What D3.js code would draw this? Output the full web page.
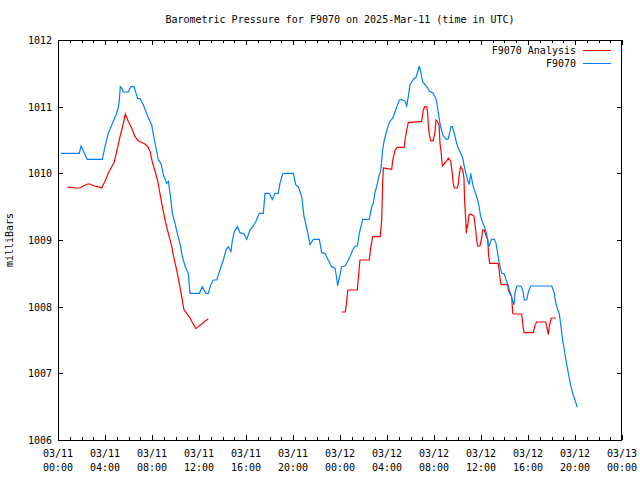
<!DOCTYPE html>
<html><head><meta charset="utf-8">
<script src="https://cdn.jsdelivr.net/npm/d3@7"></script>
<style>
body{margin:0;background:#fff;}
text{font-family:"DejaVu Sans Mono",monospace;font-size:10px;fill:#000;}
</style></head>
<body><svg id="c" width="640" height="480"></svg>
<script>
// ---- data (hours since 2025-03-11 00:00 UTC, millibars) ----
const stationHours = [0.26,1.81,1.96,2.49,3.77,4.00,4.28,4.57,4.94,5.13,5.22,5.30,5.42,5.56,5.98,6.21,6.47,6.78,6.98,7.26,7.69,7.97,8.17,8.34,8.54,8.77,8.96,9.11,9.25,9.40,9.57,9.73,9.96,10.15,10.38,10.53,10.66,10.87,11.09,11.23,12.03,12.28,12.57,12.79,13.00,13.22,13.51,13.79,14.07,14.30,14.49,14.72,14.83,15.00,15.26,15.49,15.83,16.06,16.34,16.62,16.85,17.13,17.47,17.62,17.98,18.24,18.47,18.75,18.89,19.12,19.32,20.03,20.23,20.45,20.74,20.94,21.17,21.45,21.73,22.24,22.44,22.72,23.00,23.29,23.57,23.72,23.80,24.00,24.14,24.43,24.62,24.85,25.08,25.28,25.47,25.64,25.85,25.93,26.49,26.70,26.83,26.98,27.12,27.34,27.46,27.63,27.77,27.97,28.11,28.26,28.49,28.68,28.88,29.05,29.25,29.53,29.68,29.81,29.96,30.10,30.30,30.47,30.61,30.75,30.87,31.04,31.23,31.43,31.60,31.89,32.09,32.23,32.37,32.51,32.66,32.79,33.02,33.22,33.45,33.56,33.73,33.93,34.07,34.27,34.44,34.58,34.72,34.86,35.00,35.12,35.34,35.57,35.72,35.86,35.97,36.11,36.28,36.43,36.57,36.68,36.77,36.91,37.13,37.28,37.42,37.56,37.76,37.98,38.13,38.27,38.41,38.55,38.70,38.81,38.89,39.04,39.38,39.55,39.69,39.89,40.03,40.23,42.02,42.21,42.38,42.53,42.66,42.81,42.95,43.09,43.23,43.38,43.51,43.66,43.80,43.94,44.09,44.20];
const stationValues = [1010.30,1010.30,1010.41,1010.21,1010.21,1010.40,1010.60,1010.72,1010.88,1010.98,1011.10,1011.30,1011.28,1011.22,1011.22,1011.30,1011.30,1011.12,1011.12,1011.03,1010.83,1010.73,1010.53,1010.38,1010.20,1010.15,1009.98,1009.92,1009.85,1009.88,1009.65,1009.40,1009.25,1009.10,1008.95,1008.80,1008.70,1008.58,1008.50,1008.20,1008.20,1008.30,1008.20,1008.20,1008.33,1008.40,1008.40,1008.55,1008.70,1008.85,1008.90,1008.83,1008.98,1009.12,1009.20,1009.11,1009.09,1009.01,1009.15,1009.21,1009.28,1009.40,1009.40,1009.70,1009.70,1009.61,1009.70,1009.70,1009.85,1009.99,1010.00,1010.00,1009.83,1009.80,1009.65,1009.35,1009.18,1008.93,1009.01,1009.01,1008.81,1008.80,1008.70,1008.60,1008.58,1008.43,1008.31,1008.48,1008.60,1008.61,1008.67,1008.75,1008.85,1008.91,1008.91,1009.10,1009.25,1009.31,1009.31,1009.50,1009.55,1009.72,1009.80,1009.98,1010.03,1010.35,1010.50,1010.63,1010.72,1010.78,1010.83,1010.92,1011.02,1011.10,1011.11,1011.08,1011.01,1011.15,1011.33,1011.37,1011.42,1011.44,1011.52,1011.61,1011.52,1011.37,1011.33,1011.29,1011.23,1011.21,1011.15,1011.08,1010.90,1010.75,1010.63,1010.56,1010.51,1010.52,1010.70,1010.70,1010.60,1010.45,1010.38,1010.30,1010.23,1010.10,1010.00,1009.90,1009.83,1010.00,1009.80,1009.68,1009.60,1009.48,1009.35,1009.28,1009.20,1009.13,1009.00,1008.90,1008.95,1009.01,1009.01,1008.95,1008.80,1008.65,1008.50,1008.49,1008.41,1008.34,1008.25,1008.18,1008.08,1008.03,1008.20,1008.31,1008.31,1008.25,1008.10,1008.10,1008.22,1008.31,1008.31,1008.22,1008.05,1007.95,1007.90,1007.70,1007.50,1007.35,1007.20,1007.05,1006.93,1006.80,1006.70,1006.63,1006.55,1006.49];

// analysis series; null marks the gap in the record
const analysisHours = [0.79,1.17,1.39,1.87,2.15,2.53,2.72,3.09,3.38,3.72,4.00,4.28,4.57,4.79,5.00,5.28,5.56,5.73,5.98,6.27,6.55,6.83,7.17,7.40,7.63,7.83,8.03,8.26,8.49,8.83,9.11,9.39,9.68,9.90,10.10,10.32,10.53,10.72,10.95,11.23,11.51,11.74,11.94,12.23,12.51,12.79,
  null,
  24.14,24.45,24.57,24.66,25.47,25.56,25.70,26.49,26.61,26.78,27.43,27.55,27.63,27.69,28.40,28.49,28.60,28.68,28.88,29.47,29.53,29.68,29.81,30.95,31.09,31.23,31.38,31.46,31.51,31.60,31.72,31.94,32.09,32.17,32.28,32.43,32.51,32.60,32.71,32.85,33.02,33.22,33.42,33.56,33.64,33.73,33.98,34.07,34.16,34.27,34.44,34.55,34.61,34.70,34.75,34.81,34.86,34.98,35.12,35.40,35.55,35.63,35.72,35.91,36.06,36.14,36.28,36.40,36.57,36.66,36.74,37.47,37.56,37.68,37.73,38.27,38.32,38.61,38.70,38.75,39.46,39.55,39.66,40.45,40.60,40.74,41.51,41.60,41.73,41.81,41.96,42.02,42.38];
const analysisValues = [1009.79,1009.79,1009.78,1009.78,1009.81,1009.84,1009.84,1009.81,1009.80,1009.78,1009.88,1010.00,1010.10,1010.17,1010.33,1010.55,1010.75,1010.89,1010.78,1010.68,1010.55,1010.49,1010.46,1010.44,1010.40,1010.33,1010.17,1010.03,1009.88,1009.55,1009.30,1009.10,1008.90,1008.70,1008.55,1008.35,1008.15,1007.95,1007.90,1007.83,1007.74,1007.67,1007.70,1007.74,1007.78,1007.82,
  null,
  1007.92,1007.92,1008.08,1008.25,1008.25,1008.43,1008.70,1008.70,1008.88,1009.05,1009.05,1009.30,1009.85,1010.08,1010.06,1010.20,1010.28,1010.35,1010.39,1010.39,1010.50,1010.65,1010.76,1010.78,1010.95,1011.00,1011.00,1010.90,1010.73,1010.58,1010.49,1010.49,1010.63,1010.80,1010.78,1010.73,1010.45,1010.33,1010.11,1010.14,1010.17,1010.23,1010.18,1010.00,1009.85,1009.78,1009.78,1009.85,1010.00,1010.10,1010.05,1009.93,1009.57,1009.30,1009.10,1009.23,1009.21,1009.38,1009.39,1009.36,1009.15,1009.00,1008.91,1008.91,1009.03,1009.15,1009.15,1009.08,1009.00,1008.75,1008.65,1008.65,1008.52,1008.35,1008.33,1008.33,1008.25,1008.15,1007.90,1007.89,1007.89,1007.75,1007.61,1007.61,1007.72,1007.77,1007.77,1007.70,1007.58,1007.70,1007.82,1007.83,1007.83];

const yTicks = [1006,1007,1008,1009,1010,1011,1012];
const xTickHours = [0,4,8,12,16,20,24,28,32,36,40,44,48];
const xTickDates = ["03/11","03/11","03/11","03/11","03/11","03/11","03/12","03/12","03/12","03/12","03/12","03/12","03/13"];
const xTickTimes = ["00:00","04:00","08:00","12:00","16:00","20:00","00:00","04:00","08:00","12:00","16:00","20:00","00:00"];
const seriesNames = ["F9070 Analysis","F9070"];
const seriesColors = ["#ff0000","#0080ff"];
const titleText = "Barometric Pressure for F9070 on 2025-Mar-11 (time in UTC)";
const yLabel = "milliBars";

// ---- drawing ----
const t0 = Date.UTC(2025,2,11,0,0);
const toDate = h => new Date(t0 + h*3600000);
const L=58, R=622, T=40, B=440;
const svg = d3.select("#c");
const x = d3.scaleUtc().domain([toDate(0), toDate(48)]).range([L, R]);
const y = d3.scaleLinear().domain([1006,1012]).range([B, T]);

svg.append("text").attr("x",(L+R)/2).attr("y",23).attr("text-anchor","middle").text(titleText);

// minor ticks (hourly) on bottom and top
const minorHours = d3.range(0,49).filter(h => h % 4 !== 0);
const gMinor = svg.append("g").attr("shape-rendering","crispEdges");
gMinor.selectAll("line.mb").data(minorHours).join("line")
  .attr("x1",h=>Math.round(x(toDate(h)))+0.5).attr("x2",h=>Math.round(x(toDate(h)))+0.5)
  .attr("y1",B).attr("y2",B-3).attr("stroke","#000");
gMinor.selectAll("line.mt").data(minorHours).join("line")
  .attr("x1",h=>Math.round(x(toDate(h)))+0.5).attr("x2",h=>Math.round(x(toDate(h)))+0.5)
  .attr("y1",T).attr("y2",T+3).attr("stroke","#000");

// axes
const xAxis = d3.axisBottom(x).tickValues(xTickHours.map(toDate)).tickSizeInner(-5).tickSizeOuter(0).tickPadding(8).tickFormat("");
const gx = svg.append("g").attr("transform",`translate(0,${B})`).call(xAxis);
svg.append("g").attr("transform",`translate(0,${T})`).call(d3.axisTop(x).tickValues(xTickHours.map(toDate)).tickSizeInner(-5).tickSizeOuter(0).tickFormat(""));
const gy = svg.append("g").attr("transform",`translate(${L},0)`).call(d3.axisLeft(y).tickValues(yTicks).tickSizeInner(-5).tickSizeOuter(0).tickPadding(6).tickFormat(d3.format("d")));
svg.append("g").attr("transform",`translate(${R},0)`).call(d3.axisRight(y).tickValues(yTicks).tickSizeInner(-5).tickSizeOuter(0).tickFormat(""));
svg.selectAll(".domain").remove();
svg.selectAll(".tick line").attr("shape-rendering","crispEdges");
svg.selectAll(".tick text").attr("font-family",null).attr("font-size",null).attr("fill",null);
gy.selectAll(".tick text").attr("dy","0.35em");

// two-line x labels
const lab = svg.append("g");
xTickHours.forEach((h,i)=>{
  const t = lab.append("text").attr("x",x(toDate(h))).attr("y",457).attr("text-anchor","middle");
  t.append("tspan").attr("x",x(toDate(h))).text(xTickDates[i]);
  t.append("tspan").attr("x",x(toDate(h))).attr("dy",14).text(xTickTimes[i]);
});

// border
svg.append("rect").attr("x",L+0.5).attr("y",T+0.5).attr("width",R-L-1).attr("height",B-T)
  .attr("fill","none").attr("stroke","#000").attr("shape-rendering","crispEdges");

// y label
svg.append("text").attr("transform",`translate(13,${(T+B)/2}) rotate(-90)`).attr("text-anchor","middle").text(yLabel);

// lines
const line = d3.line().defined(d=>d[0]!==null && d[1]!==null).x(d=>x(toDate(d[0]))).y(d=>y(d[1]));
const analysis = analysisHours.map((h,i)=>[h, analysisValues[i]]);
const station = stationHours.map((h,i)=>[h, stationValues[i]]);
svg.append("path").datum(analysis).attr("d",line).attr("fill","none").attr("stroke",seriesColors[0]).attr("stroke-width",1.2);
svg.append("path").datum(station).attr("d",line).attr("fill","none").attr("stroke",seriesColors[1]).attr("stroke-width",1.2);

// legend
const leg = svg.append("g");
seriesNames.forEach((n,i)=>{
  const yy = 50 + i*13;
  leg.append("text").attr("x",576).attr("y",yy+4).attr("text-anchor","end").text(n);
  leg.append("line").attr("x1",583).attr("x2",611).attr("y1",yy+0.5).attr("y2",yy+0.5)
    .attr("stroke",seriesColors[i]).attr("shape-rendering","crispEdges");
});
</script></body></html>
